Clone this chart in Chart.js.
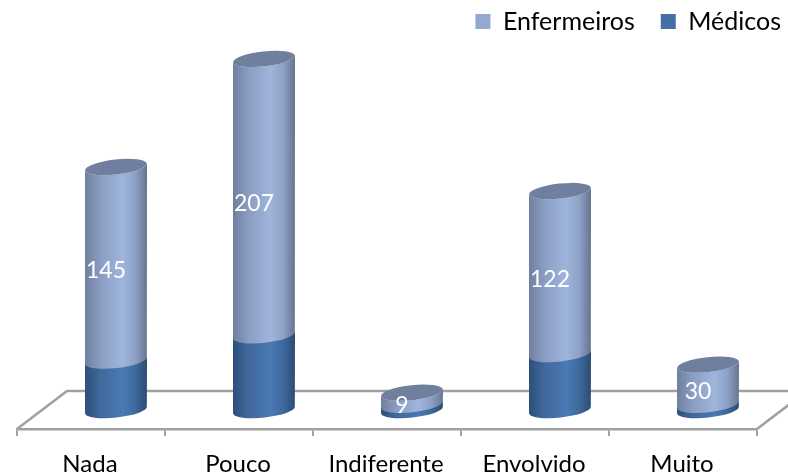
<!DOCTYPE html>
<html><head><meta charset="utf-8">
<style>html,body{margin:0;padding:0;background:#fff}canvas{display:block}</style>
<script src="https://cdn.jsdelivr.net/npm/chart.js@4/dist/chart.umd.js"></script>
</head><body><canvas id="c" width="788" height="474"></canvas>
<script>
const categories = ['Nada','Pouco','Indiferente','Envolvido','Muito'];
const enfermeiros = [145,207,9,122,30];
const medicos = [37,56,4,42,4];
const seriesNames = ['Médicos','Enfermeiros'];
const colorEnf = '#94A9CF';
const colorMed = '#4470A5';
const FONT = 'Lato, Carlito, sans-serif';

const shades = {
  [colorEnf]: {stops:['#6F7F9F','#8A9DC2','#9FB5DC','#8FA3C9','#67748F'], cap:'#717F9F'},
  [colorMed]: {stops:['#2C4F7A','#40699C','#4A79B3','#3F6A9E','#2B4C75'], cap:null}
};
const DEPTH_X = 25, TILT = -0.11, RY = 7.5;

class CylinderElement extends Chart.BarElement {
  static id = 'cylinder';
  static defaults = Chart.BarElement.defaults;
  draw(ctx) {
    const {x, y, base, width} = this.getProps(['x','y','base','width']);
    const s = shades[this.options.backgroundColor];
    const cx = x + DEPTH_X, a = width / 2, dy = a * Math.sin(TILT);
    const g = ctx.createLinearGradient(cx - a, 0, cx + a, 0);
    [0, .25, .6, .8, 1].forEach((p, i) => g.addColorStop(p, s.stops[i]));
    const overlap = s.cap ? 0.8 : 0;
    ctx.save();
    ctx.fillStyle = g;
    ctx.beginPath();
    ctx.moveTo(cx - a, y - dy);
    ctx.lineTo(cx - a, base - dy + overlap);
    ctx.ellipse(cx, base + overlap, a, RY, TILT, Math.PI, 0, true);
    ctx.lineTo(cx + a, y + dy);
    ctx.ellipse(cx, y, a, RY, TILT, 0, Math.PI, false);
    ctx.closePath();
    ctx.fill();
    if (s.cap) {
      ctx.fillStyle = s.cap;
      ctx.beginPath();
      ctx.ellipse(cx, y, a, RY, TILT, 0, Math.PI * 2);
      ctx.fill();
    }
    ctx.restore();
  }
}
class CylinderController extends Chart.BarController {
  static id = 'cylinder';
  static defaults = {...Chart.BarController.defaults, dataElementType: 'cylinder'};
  static overrides = Chart.BarController.overrides;
}
Chart.register(CylinderController, CylinderElement);

const frame = {
  id: 'frame',
  afterLayout(chart) {
    const y = chart.scales.y, l = chart.legend;
    l.right = 807; l.left = 400; l.top = -17;
    y.top = 0; y.height = y.bottom;
    chart.chartArea.top = 0; chart.chartArea.height = y.bottom;
    y.configure();
  },
  beforeDatasetsDraw(chart) {
    const {left, right, bottom} = chart.chartArea, c = chart.ctx;
    const dx = 50, dy = 38;
    c.save();
    c.strokeStyle = '#A0A0A0'; c.lineWidth = 2.5;
    c.beginPath();
    c.moveTo(left, bottom); c.lineTo(left + dx, bottom - dy); c.lineTo(right + dx, bottom - dy);
    c.lineTo(right, bottom);
    c.stroke();
    c.restore();
  },
  afterDatasetsDraw(chart) {
    const c = chart.ctx, meta = chart.getDatasetMeta(1);
    c.save();
    c.fillStyle = '#fff'; c.font = '23px ' + FONT;
    c.textAlign = 'center'; c.textBaseline = 'middle';
    meta.data.forEach((el, i) => {
      c.fillText(enfermeiros[i], el.x + 15, (el.y + el.base) / 2 + 7);
    });
    c.restore();
  }
};

new Chart(document.getElementById('c'), {
  type: 'cylinder',
  data: {
    labels: categories,
    datasets: [
      {label: seriesNames[0], data: medicos, backgroundColor: colorMed, borderWidth: 0, clip: false},
      {label: seriesNames[1], data: enfermeiros, backgroundColor: colorEnf, borderWidth: 0, clip: false}
    ]
  },
  plugins: [frame],
  options: {
    responsive: false, animation: false,
    layout: {padding: {left: 17, right: 31, top: 0, bottom: 0}},
    categoryPercentage: 1, barPercentage: 0.419,
    plugins: {
      tooltip: {enabled: false},
      legend: {
        position: 'top', align: 'end', reverse: true,
        labels: {boxWidth: 15, boxHeight: 15, padding: 26, color: '#000', font: {family: FONT, size: 25}}
      }
    },
    scales: {
      x: {
        type: 'category', stacked: true, offset: true,
        grid: {display: true, drawOnChartArea: false, drawTicks: true, tickLength: 7, color: '#A0A0A0', lineWidth: 2, offset: true},
        border: {display: true, color: '#A0A0A0', width: 2.5},
        ticks: {color: '#000', font: {family: FONT, size: 24}, padding: 14, maxRotation: 0, autoSkip: false, labelOffset: -1},
        afterFit(s) { s.height = 45; }
      },
      y: {type: 'linear', stacked: true, display: false, min: -14.2, max: 307.1}
    }
  }
});
</script></body></html>
